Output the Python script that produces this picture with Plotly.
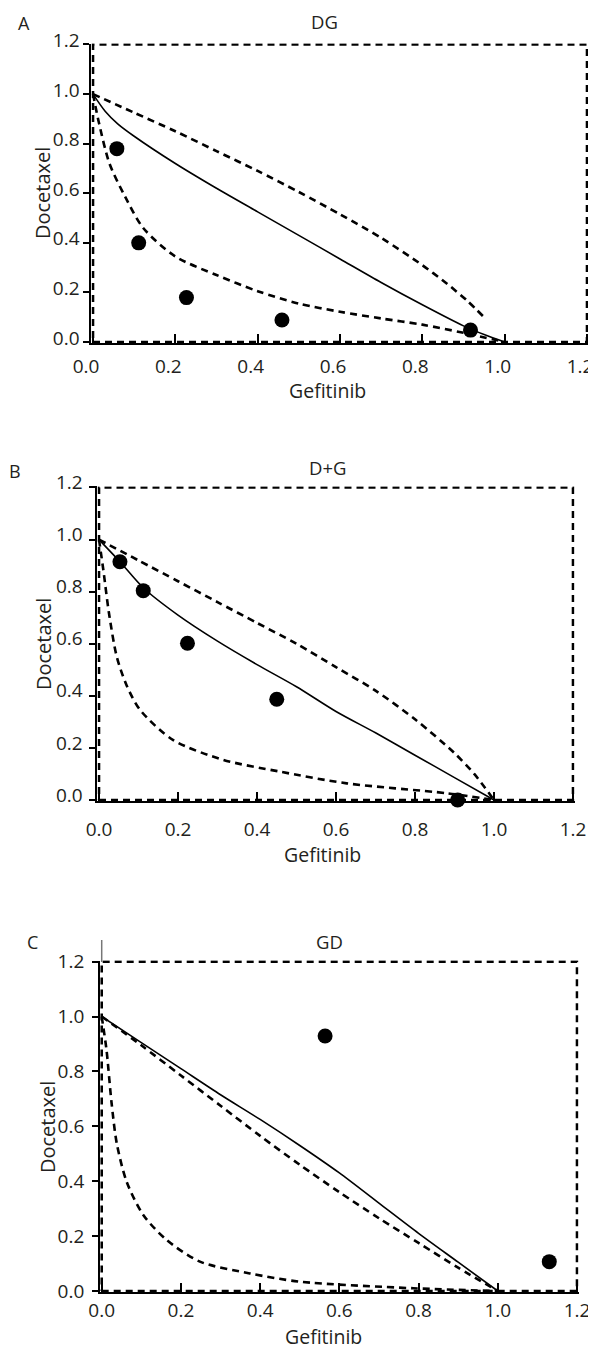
import plotly.graph_objects as go

# ---------------- data ----------------
tick_vals = [0.0, 0.2, 0.4, 0.6, 0.8, 1.0, 1.2]
tick_text = ["0.0", "0.2", "0.4", "0.6", "0.8", "1.0", "1.2"]
panel_letters = ["A", "B", "C"]
panel_titles = ["DG", "D+G", "GD"]
x_title = "Gefitinib"
y_title = "Docetaxel"

# dashed frame of the isobologram
box_x = [0.0, 1.2, 1.2, 0.0, 0.0]
box_y = [0.0, 0.0, 1.2, 1.2, 0.0]

# Panel A (DG)
dg_obs_x = [0.058, 0.111, 0.227, 0.459, 0.917]
dg_obs_y = [0.78, 0.40, 0.179, 0.089, 0.048]
dg_add_x = [0.0, 0.03, 0.06, 0.1, 0.2, 0.3, 0.4, 0.5, 0.6, 0.7, 0.8, 0.9, 0.95, 1.0]
dg_add_y = [1.0, 0.93, 0.88, 0.83, 0.72, 0.62, 0.525, 0.43, 0.335, 0.24, 0.15, 0.065, 0.03, 0.0]
dg_up_x = [0.0, 0.1, 0.2, 0.3, 0.4, 0.5, 0.6, 0.7, 0.8, 0.86, 0.91, 0.95]
dg_up_y = [1.0, 0.925, 0.85, 0.77, 0.69, 0.605, 0.515, 0.42, 0.31, 0.235, 0.165, 0.10]
dg_lo_x = [0.0, 0.015, 0.04, 0.078, 0.122, 0.2, 0.3, 0.4, 0.5, 0.6, 0.7, 0.8, 0.9, 1.0]
dg_lo_y = [1.0, 0.88, 0.72, 0.586, 0.46, 0.345, 0.27, 0.205, 0.155, 0.122, 0.095, 0.07, 0.037, 0.0]

# Panel B (D+G)
dpg_obs_x = [0.053, 0.112, 0.224, 0.45, 0.908]
dpg_obs_y = [0.915, 0.804, 0.602, 0.387, 0.0]
dpg_add_x = [0.0, 0.053, 0.112, 0.2, 0.3, 0.4, 0.5, 0.6, 0.7, 0.8, 0.9, 1.0]
dpg_add_y = [1.0, 0.915, 0.815, 0.71, 0.61, 0.52, 0.435, 0.34, 0.258, 0.172, 0.086, 0.0]
dpg_up_x = [0.0, 0.1, 0.2, 0.3, 0.4, 0.5, 0.6, 0.7, 0.8, 0.9, 0.95, 1.0]
dpg_up_y = [1.0, 0.92, 0.84, 0.76, 0.68, 0.60, 0.51, 0.42, 0.31, 0.18, 0.10, 0.0]
dpg_lo_x = [0.0, 0.011, 0.025, 0.045, 0.07, 0.104, 0.188, 0.315, 0.458, 0.627, 0.88, 1.0]
dpg_lo_y = [1.0, 0.883, 0.72, 0.55, 0.44, 0.346, 0.23, 0.154, 0.109, 0.064, 0.026, 0.0]

# Panel C (GD)
gd_obs_x = [0.564, 1.13]
gd_obs_y = [0.929, 0.107]
gd_add_x = [0.0, 0.1, 0.2, 0.3, 0.4, 0.5, 0.6, 0.7, 0.8, 0.9, 1.0]
gd_add_y = [1.0, 0.905, 0.81, 0.715, 0.625, 0.53, 0.43, 0.32, 0.21, 0.105, 0.0]
gd_up_x = [0.0, 0.1, 0.2, 0.3, 0.4, 0.5, 0.6, 0.7, 0.8, 0.9, 1.0]
gd_up_y = [1.0, 0.895, 0.785, 0.675, 0.565, 0.46, 0.36, 0.265, 0.175, 0.085, 0.0]
gd_lo_x = [0.0, 0.012, 0.025, 0.038, 0.063, 0.105, 0.164, 0.248, 0.374, 0.5, 0.787, 1.0]
gd_lo_y = [1.0, 0.88, 0.684, 0.538, 0.398, 0.277, 0.186, 0.107, 0.064, 0.034, 0.01, 0.0]

panels_data = [
    (dg_obs_x, dg_obs_y, dg_add_x, dg_add_y, dg_up_x, dg_up_y, dg_lo_x, dg_lo_y),
    (dpg_obs_x, dpg_obs_y, dpg_add_x, dpg_add_y, dpg_up_x, dpg_up_y, dpg_lo_x, dpg_lo_y),
    (gd_obs_x, gd_obs_y, gd_add_x, gd_add_y, gd_up_x, gd_up_y, gd_lo_x, gd_lo_y),
]

# ---------------- layout geometry (page pixels) ----------------
W, H = 596, 1351
OFF = 8          # default page body margin shifts the figure by 8 px
PAD = 0.004
geom = [
    # page px of x=0, x=1.2, y=0, y=1.2
    dict(x0=93, x12=587, y0=342, y12=44.5,
         letter=(24, 23), title=(324, 21.5), xt=(327, 390), yt=(43, 193),
         xstand=5, xshift=-7, yshift=-4, ystand=0),
    dict(x0=99, x12=573, y0=800, y12=487.5,
         letter=(15, 471), title=(327, 467.5), xt=(322.5, 854), yt=(44, 644),
         xstand=10, xshift=0, yshift=-5, ystand=3),
    dict(x0=101.7, x12=577, y0=1291, y12=961.6,
         letter=(32, 942), title=(329, 941.7), xt=(323.5, 1336), yt=(47, 1127),
         xstand=0, xshift=0, yshift=0, ystand=4),
]


def fx(px):
    return (px - OFF) / W


def fy(py):
    return 1 - (py - OFF) / H


TXT = "#231f20"
FONT = "Open Sans"
DASH = "7px,5px"
TICK_SIZE = 19

fig = go.Figure()
layout = dict(
    width=W, height=H, margin=dict(l=0, r=0, t=0, b=0, autoexpand=False),
    paper_bgcolor="white", plot_bgcolor="white", showlegend=False,
    font=dict(family=FONT, color=TXT, size=18),
)
annotations = []
shapes = []

for i, (g, d) in enumerate(zip(geom, panels_data)):
    n = "" if i == 0 else str(i + 1)
    xa, ya = "x" + n, "y" + n
    obs_x, obs_y, add_x, add_y, up_x, up_y, lo_x, lo_y = d

    kx = (g["x12"] - g["x0"]) / 1.2
    ky = (g["y0"] - g["y12"]) / 1.2
    xl = g["x0"] - PAD * kx
    xr = g["x12"] + PAD * kx
    yb = g["y0"] + PAD * ky
    yt = g["y12"] - PAD * ky

    # frame
    fig.add_trace(go.Scatter(x=box_x, y=box_y, mode="lines", xaxis=xa, yaxis=ya,
                             line=dict(color="black", width=2.6, dash=DASH), hoverinfo="skip"))
    # confidence (dashed) curves
    fig.add_trace(go.Scatter(x=up_x, y=up_y, mode="lines", xaxis=xa, yaxis=ya,
                             line=dict(color="black", width=2.6, dash=DASH, shape="spline", smoothing=0.8)))
    fig.add_trace(go.Scatter(x=lo_x, y=lo_y, mode="lines", xaxis=xa, yaxis=ya,
                             line=dict(color="black", width=2.6, dash=DASH, shape="spline", smoothing=0.8)))
    # additivity line
    fig.add_trace(go.Scatter(x=add_x, y=add_y, mode="lines", xaxis=xa, yaxis=ya,
                             line=dict(color="black", width=1.6, shape="spline", smoothing=0.8)))
    # observed combination points
    fig.add_trace(go.Scatter(x=obs_x, y=obs_y, mode="markers", xaxis=xa, yaxis=ya, cliponaxis=False,
                             marker=dict(color="black", size=15, line=dict(width=0))))

    common = dict(showgrid=False, zeroline=False, showline=True, linecolor="black", linewidth=2,
                  automargin=False,
                  tickmode="array", tickvals=tick_vals, ticktext=tick_text,
                  tickcolor="black", tickwidth=1.5, tickfont=dict(family=FONT, size=TICK_SIZE, color=TXT))
    layout["xaxis" + n] = dict(common, domain=[fx(xl), fx(xr)], range=[-PAD, 1.2 + PAD],
                               anchor=ya, ticks="inside", ticklen=9,
                               ticklabelstandoff=g["xstand"], ticklabelshift=g["xshift"])
    layout["yaxis" + n] = dict(common, domain=[fy(yb), fy(yt)], range=[-PAD, 1.2 + PAD],
                               anchor=xa, ticks="outside", ticklen=6,
                               ticklabelshift=g["yshift"], ticklabelstandoff=g["ystand"])

    def ann(text, pos, size=18, angle=0):
        annotations.append(dict(text=text, x=fx(pos[0]), y=fy(pos[1]), xref="paper", yref="paper",
                                xanchor="center", yanchor="middle", showarrow=False, textangle=angle,
                                font=dict(family=FONT, size=size, color=TXT)))

    ann(panel_letters[i], g["letter"], 18)
    ann(panel_titles[i], g["title"], 18.5)
    ann(x_title, g["xt"], 19.5)
    ann(y_title, g["yt"], 20, -90)

# small gray axis stub above panel C frame
shapes.append(dict(type="line", xref="paper", yref="paper",
                   x0=fx(geom[2]["x0"]), x1=fx(geom[2]["x0"]),
                   y0=fy(962), y1=fy(940), line=dict(color="#777777", width=1.5)))

layout["annotations"] = annotations
layout["shapes"] = shapes
fig.update_layout(**layout)
fig.write_html("out.html")
